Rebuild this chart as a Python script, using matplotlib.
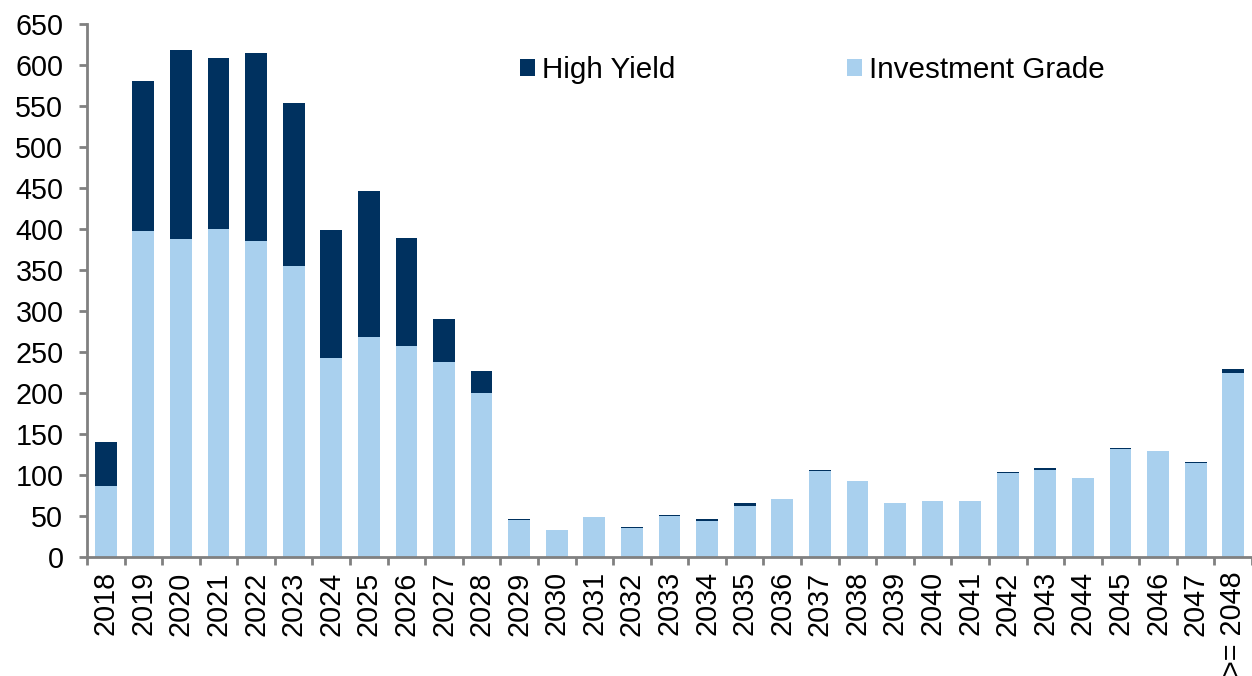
import matplotlib
matplotlib.use("Agg")
import matplotlib.pyplot as plt
from matplotlib.patches import Patch

plt.rcParams['font.family'] = ['Liberation Sans', 'DejaVu Sans']

categories = ['2018', '2019', '2020', '2021', '2022', '2023', '2024', '2025', '2026', '2027',
              '2028', '2029', '2030', '2031', '2032', '2033', '2034', '2035', '2036', '2037',
              '2038', '2039', '2040', '2041', '2042', '2043', '2044', '2045', '2046', '2047',
              '>= 2048']
investment_grade = [86, 398, 388, 400, 385, 355, 243, 268, 257, 238,
                    200, 45, 32, 48, 35, 49.5, 43, 62, 70, 105,
                    93, 66, 68, 68, 102, 105.5, 96, 132, 129, 115,
                    224]
high_yield = [54, 183, 231, 209, 230, 199, 156, 178, 132, 52,
              27, 1, 0.7, 0, 0.7, 1, 2.5, 3, 1, 1,
              0, 0, 0, 0, 1, 3, 0, 1, 0, 1,
              5]
yticks = list(range(0, 651, 50))

dark = '#00315F'
light = '#A9D0EE'
gray = '#808080'
fs = 20.7

W, H = 1252, 676
fig = plt.figure(figsize=(W / 100, H / 100), dpi=100)
left = 87 / W
bottom = (H - 556.7) / H
top = (H - 24.3) / H
ax = fig.add_axes([left, bottom, 1 - left, top - bottom])

x = list(range(len(categories)))
ax.bar(x, investment_grade, width=0.58, color=light, label='Investment Grade', zorder=2)
ax.bar(x, high_yield, width=0.58, bottom=investment_grade, color=dark, label='High Yield', zorder=2)

step = 37.75
ax.set_xlim(-0.5, -0.5 + (W - 87) / step)
ax.set_ylim(0, 650)
ax.set_yticks(yticks)
ax.set_xticks(x)
ax.set_xticklabels(categories, rotation=90, va='top', ha='center')
ax.set_xticks([i - 0.5 for i in range(len(categories) + 1)], minor=True)

for s in ['top', 'right']:
    ax.spines[s].set_visible(False)
for s in ['left', 'bottom']:
    ax.spines[s].set_color(gray)
    ax.spines[s].set_linewidth(2)

ax.tick_params(axis='x', which='major', length=0, pad=10.5, labelsize=fs, labelcolor='black')
ax.tick_params(axis='x', which='minor', length=6, width=2, color=gray, direction='out')
ax.tick_params(axis='y', which='major', length=6, width=2, color=gray, direction='out',
               pad=11, labelsize=fs, labelcolor='black')

handles = [Patch(facecolor=dark, edgecolor='none'), Patch(facecolor=light, edgecolor='none')]
fig.legend(handles, ['High Yield', 'Investment Grade'], ncol=2, frameon=False,
           loc='center left', bbox_to_anchor=(520 / W, 1 - 70 / H),
           borderpad=0, borderaxespad=0, fontsize=fs + 0.6,
           handlelength=0.52, handleheight=0.52, handletextpad=0.22, columnspacing=5.8)

fig.savefig('out.png', dpi=100)
